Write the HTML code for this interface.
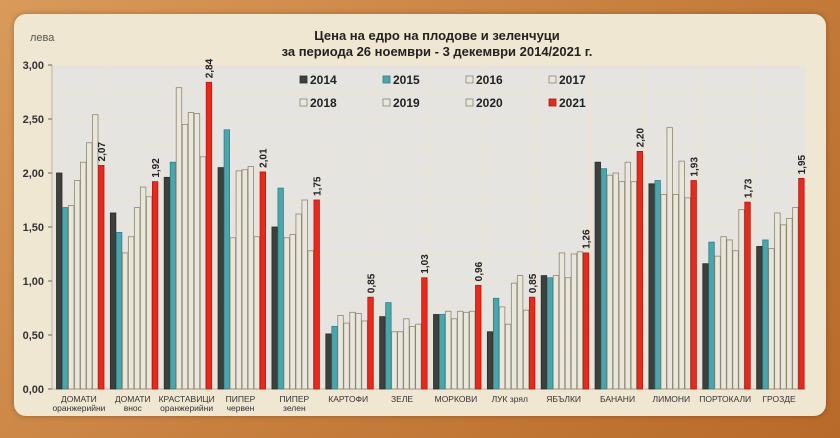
<!DOCTYPE html>
<html><head><meta charset="utf-8"><style>
html,body{margin:0;padding:0;width:840px;height:438px;overflow:hidden}
body{background:linear-gradient(135deg,#d99a5a 0%,#c8803f 50%,#b86a2a 100%);font-family:"Liberation Sans",sans-serif}
#p{position:absolute;left:14px;top:14px;width:812px;height:402px;border-radius:12px;background:#efe7d2;box-shadow:0 0 6px rgba(0,0,0,.25)}
</style></head><body>
<div id="p"></div>
<svg id="s" width="840" height="438" style="position:absolute;left:0;top:0"></svg>
<script>
var NS="http://www.w3.org/2000/svg",s=document.getElementById('s');
function el(t,a,txt){var e=document.createElementNS(NS,t);for(var k in a)e.setAttribute(k,a[k]);if(txt!=null)e.textContent=txt;s.appendChild(e);return e;}
var X0=52,X1=806,Y0=389,K=108;
el('rect',{x:X0,y:Y0-3*K,width:X1-X0,height:3*K,fill:'#e6e4e0'});
for(var v=0.25;v<3;v+=0.25){el('line',{x1:X0,x2:X1,y1:Y0-v*K,y2:Y0-v*K,stroke:'#ece2c8','stroke-width':1});}
var pitch=(X1-X0)/14;
for(var i=1;i<14;i++){el('line',{x1:X0+i*pitch,x2:X0+i*pitch,y1:Y0-3*K,y2:Y0,stroke:'#ede5cf','stroke-width':1});}
el('line',{x1:X0,x2:X0,y1:Y0-3*K,y2:Y0,stroke:'#bdb59e'});
el('line',{x1:X0,x2:X1,y1:Y0,y2:Y0,stroke:'#bdb59e'});
for(var v=0;v<=3;v+=0.5){el('line',{x1:X0-4,x2:X0,y1:Y0-v*K,y2:Y0-v*K,stroke:'#666'});
el('text',{x:X0-8,y:Y0-v*K+4,'text-anchor':'end','font-size':11,'font-weight':'bold',fill:'#333'},v.toFixed(2).replace('.',','));}
var D=[[2.00,1.68,1.70,1.93,2.10,2.28,2.54,2.07],[1.63,1.45,1.26,1.41,1.68,1.87,1.78,1.92],[1.96,2.10,2.79,2.45,2.56,2.55,2.15,2.84],[2.05,2.40,1.40,2.02,2.03,2.06,1.41,2.01],[1.50,1.86,1.40,1.43,1.62,1.75,1.28,1.75],[0.51,0.58,0.68,0.61,0.71,0.70,0.63,0.85],[0.67,0.80,0.53,0.53,0.65,0.58,0.60,1.03],[0.69,0.69,0.72,0.65,0.72,0.71,0.72,0.96],[0.53,0.84,0.76,0.60,0.98,1.05,0.73,0.85],[1.05,1.03,1.05,1.26,1.03,1.25,1.27,1.26],[2.10,2.04,1.98,2.00,1.92,2.10,1.92,2.20],[1.90,1.93,1.80,2.42,1.80,2.11,1.77,1.93],[1.16,1.36,1.23,1.41,1.38,1.28,1.66,1.73],[1.32,1.38,1.30,1.63,1.52,1.58,1.68,1.95]];
var L=[["ДОМАТИ","оранжерийни"],["ДОМАТИ","внос"],["КРАСТАВИЦИ","оранжерийни"],["ПИПЕР","червен"],["ПИПЕР","зелен"],["КАРТОФИ",""],["ЗЕЛЕ",""],["МОРКОВИ",""],["ЛУК зрял",""],["ЯБЪЛКИ",""],["БАНАНИ",""],["ЛИМОНИ",""],["ПОРТОКАЛИ",""],["ГРОЗДЕ",""]];
var F=['#3d403b','#4ca5ad','#e9e6dc','#e9e6dc','#e9e6dc','#e9e6dc','#e9e6dc','#e8291c'];
var ST=['#2a2c28','#2f7f87','#8d8670','#8d8670','#8d8670','#8d8670','#8d8670','#b01a10'];
for(var g=0;g<14;g++){var gx=X0+g*pitch+4;
for(var b=0;b<8;b++){var h=D[g][b]*K,x=gx+b*6;
el('rect',{x:x+0.5,y:Y0-h,width:5.5,height:h,fill:F[b],stroke:ST[b],'stroke-width':0.8});}
var cx=gx+7*6+3,ty=Y0-D[g][7]*K-4;
el('text',{x:cx+4,y:ty,transform:'rotate(-90 '+(cx+4)+' '+ty+')','font-size':10,'font-weight':'bold',fill:'#222'},D[g][7].toFixed(2).replace('.',','));
var mx=X0+g*pitch+pitch/2;
el('text',{x:mx,y:402,'text-anchor':'middle','font-size':8.5,fill:'#333'},L[g][0]);
if(L[g][1])el('text',{x:mx,y:411,'text-anchor':'middle','font-size':8.5,fill:'#333'},L[g][1]);}
el('text',{x:30,y:41,'font-size':11,fill:'#555'},'лева');
el('text',{x:437,y:40,'text-anchor':'middle','font-size':13,'font-weight':'bold',fill:'#222'},'Цена на едро на плодове и зеленчуци');
el('text',{x:437,y:56,'text-anchor':'middle','font-size':13,'font-weight':'bold',fill:'#222'},'за периода  26 ноември - 3 декември 2014/2021 г.');
var yrs=['2014','2015','2016','2017','2018','2019','2020','2021'];
for(var i=0;i<8;i++){var lx=300+(i%4)*83,ly=(i<4)?84:107;
el('rect',{x:lx,y:ly-8,width:7,height:7,fill:F[i],stroke:ST[i],'stroke-width':0.8});
el('text',{x:lx+10,y:ly,'font-size':12,'font-weight':'bold',fill:'#222'},yrs[i]);}
</script>
</body></html>
